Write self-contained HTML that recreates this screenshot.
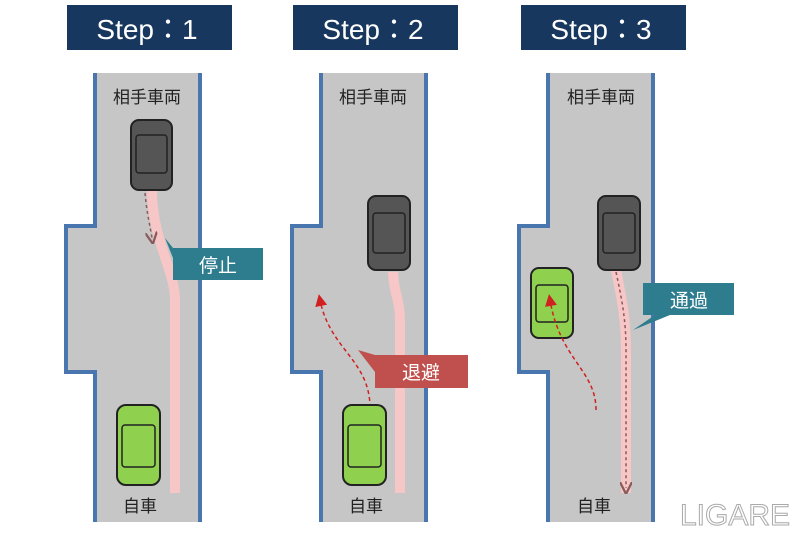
<!DOCTYPE html>
<html><head><meta charset="utf-8"><style>
body{margin:0;background:#fff;}
svg{display:block}
text{font-family:"Liberation Sans","Noto Sans CJK JP",sans-serif}
</style></head><body>
<svg width="800" height="533" viewBox="0 0 800 533">
<defs>
<marker id="ar" markerWidth="8" markerHeight="8" refX="4" refY="4" orient="auto"><path d="M0,0 L8,4 L0,8 Z" fill="#d02020"/></marker>
<marker id="ag" markerWidth="8" markerHeight="8" refX="4" refY="4" orient="auto"><path d="M0,0 L8,4 L0,8" fill="none" stroke="#8a5a5a" stroke-width="1.5"/></marker>
</defs>

<g id="r1">
<path d="M95,73 V226 H66 V372 H95 V522 H200 V73 Z" fill="#c6c6c6"/>
<path d="M95,73 V226 H66 V372 H95 V522" fill="none" stroke="#4a76b0" stroke-width="4"/>
<line x1="200" y1="73" x2="200" y2="522" stroke="#4a76b0" stroke-width="4"/>
</g>
<use href="#r1" x="226"/>
<use href="#r1" x="453"/>

<rect x="67" y="5" width="165" height="45" fill="#17375e"/>
<rect x="293" y="5" width="165" height="45" fill="#17375e"/>
<rect x="521" y="5" width="165" height="45" fill="#17375e"/>
<g fill="#fff" font-size="28" text-anchor="middle">
<text x="147" y="39">Step：1</text>
<text x="373" y="39">Step：2</text>
<text x="601" y="39">Step：3</text>
</g>

<g font-size="17" fill="#222" text-anchor="middle">
<text x="147" y="103">相手車両</text>
<text x="373" y="103">相手車両</text>
<text x="601" y="103">相手車両</text>
<text x="140" y="512">自車</text>
<text x="366" y="512">自車</text>
<text x="594" y="512">自車</text>
</g>

<path d="M152,190 C152,240 175,270 175,300 V493" fill="none" stroke="#f7c6c6" stroke-width="10"/>
<path d="M393,272 C393,290 400,300 400,320 V493" fill="none" stroke="#f7c6c6" stroke-width="10"/>
<path d="M616,270 C622,300 626,320 626,350 V493" fill="none" stroke="#f7c6c6" stroke-width="10"/>

<path d="M145,193 C147,215 150,225 152,238" fill="none" stroke="#8a5a5a" stroke-width="1.5" stroke-dasharray="3,3" marker-end="url(#ag)"/>
<path d="M370,408 C370,360 330,350 320,300" fill="none" stroke="#d02020" stroke-width="1.5" stroke-dasharray="4,3" marker-end="url(#ar)"/>
<path d="M616,272 C622,300 626,320 626,350 V488" fill="none" stroke="#8a5a5a" stroke-width="1.5" stroke-dasharray="3,3" marker-end="url(#ag)"/>

<g stroke="#222" stroke-width="2">
<rect x="131" y="120" width="41" height="70" rx="8" fill="#555"/>
<rect x="368" y="196" width="42" height="74" rx="8" fill="#555"/>
<rect x="598" y="196" width="42" height="74" rx="8" fill="#555"/>
<rect x="117" y="405" width="43" height="80" rx="9" fill="#8fd14f"/>
<rect x="343" y="405" width="43" height="80" rx="9" fill="#8fd14f"/>
<rect x="531" y="268" width="42" height="70" rx="8" fill="#8fd14f"/>
</g>
<g fill="none" stroke="#222" stroke-width="1.5">
<rect x="136" y="135" width="31" height="38" rx="3"/>
<rect x="373" y="213" width="32" height="40" rx="3"/>
<rect x="603" y="213" width="32" height="40" rx="3"/>
<rect x="122" y="425" width="33" height="42" rx="3"/>
<rect x="348" y="425" width="33" height="42" rx="3"/>
<rect x="536" y="285" width="32" height="37" rx="3"/>
</g>
<path d="M596,410 C596,370 560,360 550,300" fill="none" stroke="#d02020" stroke-width="1.5" stroke-dasharray="4,3" marker-end="url(#ar)"/>

<path d="M173,248 H263 V280 H173 V258 L165,238 Z" fill="#2e7d8f"/>
<text x="218" y="272" font-size="19" fill="#fff" text-anchor="middle">停止</text>
<path d="M375,355 H468 V388 H375 V372 L358,350 Z" fill="#c0504d"/>
<text x="421" y="379" font-size="19" fill="#fff" text-anchor="middle">退避</text>
<path d="M643,283 H734 V315 H670 L633,330 L655,315 H643 Z" fill="#2e7d8f"/>
<text x="689" y="307" font-size="19" fill="#fff" text-anchor="middle">通過</text>

<text x="735" y="525" font-size="30" fill="#fff" stroke="#aaa" stroke-width="1" text-anchor="middle">LIGARE</text>
</svg>
</body></html>
